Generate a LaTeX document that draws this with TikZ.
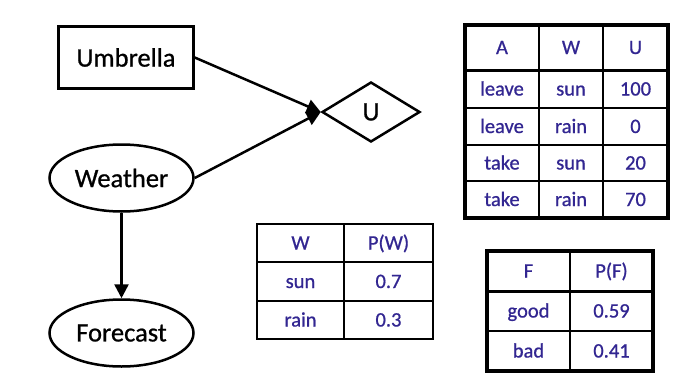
\documentclass[tikz,border=0pt]{standalone}
\usepackage{fontspec}
\setmainfont{Carlito}
\newfontfamily\heavy[FakeBold=0.8]{Carlito}
\usetikzlibrary{shapes.geometric,arrows.meta}
\definecolor{tblue}{RGB}{50,38,145}
\tikzset{
  big/.style={font=\heavy\fontsize{26.5}{30}\selectfont, inner sep=0pt},
  netnode/.style={big, draw, line width=2.5pt},
  arr/.style={line width=2.5pt, -{Triangle[length=14pt,width=14pt]}},
  cell/.style={font=\heavy\fontsize{20.5}{24}\selectfont, text=tblue, inner sep=0pt, text height=13pt, text depth=0pt},
  outer/.style={line width=3pt},
  inner/.style={line width=1.4pt},
}
\begin{document}
\begin{tikzpicture}[x=1pt,y=-1pt]
\useasboundingbox (0,0) rectangle (678,383);
% network
\node[netnode, minimum width=135pt, minimum height=62pt] (umb) at (126,57.5) {Umbrella};
\node[netnode, diamond, minimum width=98pt, minimum height=60pt] (u) at (371,112) {U};
\node[netnode, ellipse, minimum width=144pt, minimum height=67pt] (wea) at (121.5,178) {Weather};
\node[netnode, ellipse, minimum width=144pt, minimum height=67pt] (fc) at (121.5,333) {Forecast};
\draw[arr] (umb.east) -- (u.west);
\draw[arr] (wea.east) -- (u.west);
\draw[arr] (wea.south) -- (fc.north);
% utility table
\draw[inner] (539,25) -- (539,218) (603,25) -- (603,218);
\draw[inner] (465,108) -- (668,108) (465,145) -- (668,145) (465,181) -- (668,181);
\draw[outer] (465,70) -- (668,70);
\draw[line width=3.2pt] (465,25) rectangle (668,218);
\node[cell] (ua) at (502,47.5) {A};
\node[cell] (uw) at (571,47.5) {W};
\node[cell] (uu) at (635.5,47.5) {U};
\node[cell] (a1) at (502,89) {leave};
\node[cell] (w1) at (571,89) {sun};
\node[cell] (u1) at (635.5,89) {100};
\node[cell] (a2) at (502,126.5) {leave};
\node[cell] (w2) at (571,126.5) {rain};
\node[cell] (u2) at (635.5,126.5) {0};
\node[cell] (a3) at (502,163) {take};
\node[cell] (w3) at (571,163) {sun};
\node[cell] (u3) at (635.5,163) {20};
\node[cell] (a4) at (502,199.5) {take};
\node[cell] (w4) at (571,199.5) {rain};
\node[cell] (u4) at (635.5,199.5) {70};
% weather table
\draw[inner] (344,224) -- (344,339) (257,301) -- (433,301);
\draw[line width=2.2pt] (257,262) -- (433,262);
\draw[line width=2.7pt] (257,224) rectangle (433,339);
\node[cell] (pwh) at (300.5,243) {W};
\node[cell] (pwv) at (388.5,243) {P(W)};
\node[cell] (pw1) at (300.5,281.5) {sun};
\node[cell] (pv1) at (388.5,281.5) {0.7};
\node[cell] (pw2) at (300.5,320) {rain};
\node[cell] (pv2) at (388.5,320) {0.3};
% forecast table
\draw[inner] (570,251) -- (570,371) (487,331) -- (653,331);
\draw[outer] (487,291) -- (653,291);
\draw[line width=3.6pt] (487,251) rectangle (653,371);
\node[cell] (pfh) at (528.5,271) {F};
\node[cell] (pfv) at (611.5,271) {P(F)};
\node[cell] (pf1) at (528.5,311) {good};
\node[cell] (pq1) at (611.5,311) {0.59};
\node[cell] (pf2) at (528.5,351) {bad};
\node[cell] (pq2) at (611.5,351) {0.41};
\end{tikzpicture}
\end{document}
